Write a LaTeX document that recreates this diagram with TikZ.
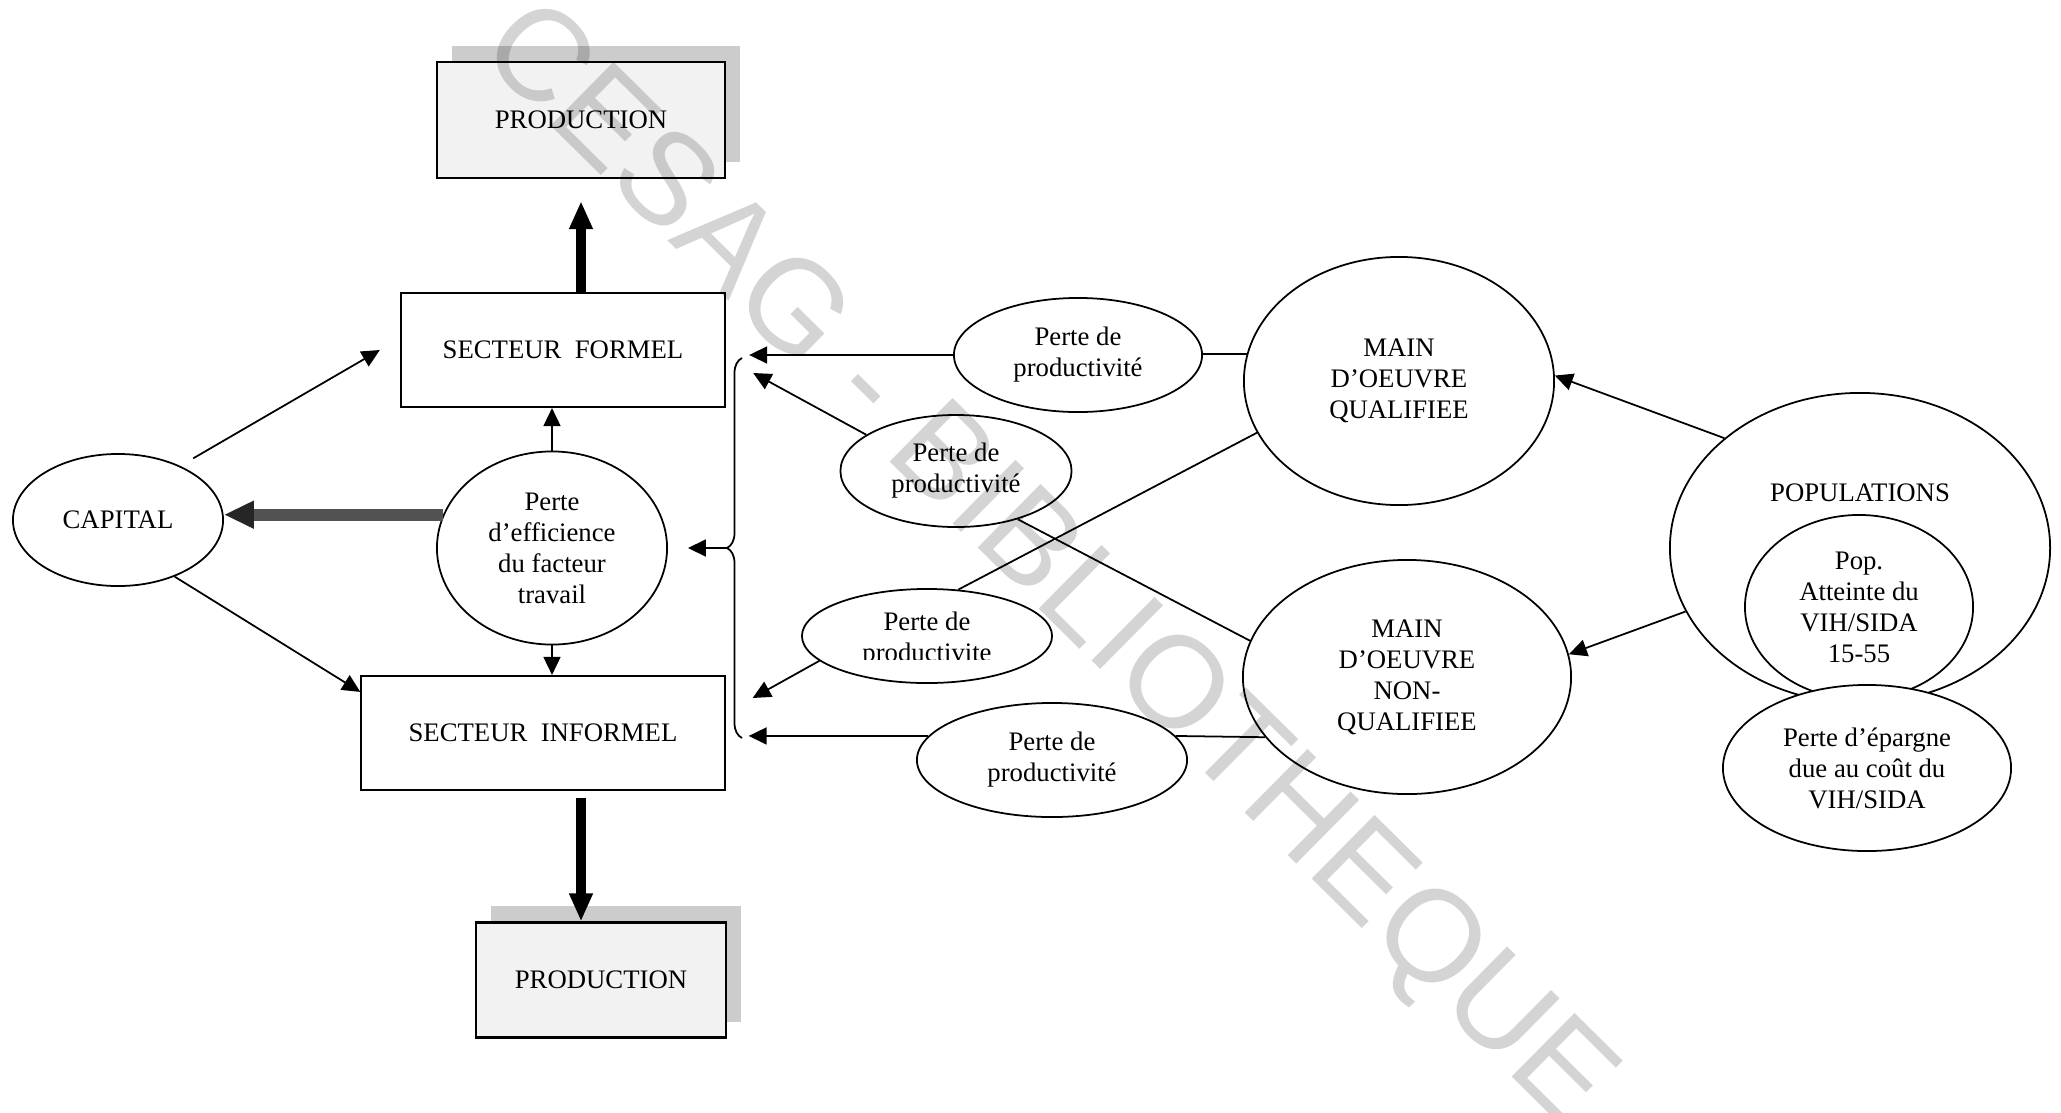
\documentclass[tikz,border=0pt]{standalone}
\usepackage{fontspec}
\setmainfont{Liberation Serif}
\newfontfamily\filigranefont{Liberation Sans}
\usetikzlibrary{arrows.meta, shapes.geometric, decorations.pathreplacing, shadows}

\begin{document}
\begin{tikzpicture}[
  x=0.01cm, y=-0.01cm,
  txt/.style={font=\fontsize{7.6}{8.8}\selectfont, align=center},
  boite/.style={txt, draw, line width=0.6pt, inner sep=0pt},
  prod/.style={boite, fill=gray!10,
               general shadow={shadow xshift=0.15cm, shadow yshift=0.16cm, fill=gray!40}},
  bulle/.style={txt, ellipse, draw, line width=0.5pt, inner sep=0pt},
  trait/.style={line width=0.5pt},
  fl/.style={trait, -{Triangle[length=0.18cm, width=0.17cm]}},
  gros/.style={line width=0.1cm, -{Triangle[length=0.28cm, width=0.22cm]}},
  grisfl/.style={line width=0.12cm, draw=black!68,
                 -{Triangle[length=0.3cm, width=0.26cm, color=black!85]}}
]
\useasboundingbox (0,0) rectangle (2061,1112);

% Secteurs et production
\node[prod, minimum width=2.87cm, minimum height=1.16cm] (prodH) at (581,120) {PRODUCTION};
\node[boite, minimum width=3.24cm, minimum height=1.14cm] (formel) at (563,350) {SECTEUR~~FORMEL};
\node[boite, minimum width=3.63cm, minimum height=1.14cm] (informel) at (543,733) {SECTEUR~~INFORMEL};
\node[prod, minimum width=2.49cm, minimum height=1.15cm] (prodB) at (601,980) {PRODUCTION};

\node[bulle, minimum width=2.1cm, minimum height=1.32cm] (capital) at (118,520) {CAPITAL};
\node[bulle, minimum width=2.3cm, minimum height=1.93cm] (eff) at (552,548)
  {Perte\\d’efficience\\du facteur\\travail};

% Pertes de productivite
\node[bulle, minimum width=2.48cm, minimum height=1.14cm] (p1) at (1078,355) {Perte de\\productivité};
\node[bulle, minimum width=2.31cm, minimum height=1.12cm] (p2) at (956,471) {Perte de\\productivité};
\node[bulle, minimum width=2.5cm, minimum height=0.94cm,
  path picture={
    \clip ([yshift=0.24cm]path picture bounding box.south west)
      rectangle (path picture bounding box.north east);
    \node[txt] at ([yshift=-0.04cm]path picture bounding box.center) {Perte de\\productivite};
  }] (p3) at (927,636) {};
\node[bulle, minimum width=2.7cm, minimum height=1.14cm] (p4) at (1052,760) {Perte de\\productivité};

% Main d'oeuvre
\node[bulle, minimum width=3.1cm, minimum height=2.48cm] (mq) at (1399,381) {MAIN\\D’OEUVRE\\QUALIFIEE};
\node[bulle, minimum width=3.28cm, minimum height=2.34cm] (mnq) at (1407,677)
  {MAIN\\D’OEUVRE\\NON-\\QUALIFIEE};

% Populations
\node[bulle, minimum width=3.8cm, minimum height=3.1cm] (pop) at (1860,548) {};
\node[txt] (popt) at (1860,493) {POPULATIONS};
\node[bulle, minimum width=2.28cm, minimum height=1.84cm] (popv) at (1859,607)
  {Pop.\\Atteinte du\\VIH/SIDA\\15-55};
\node[bulle, fill=white, minimum width=2.88cm, minimum height=1.66cm] (epargne) at (1867,768)
  {Perte d’épargne\\due au coût du\\VIH/SIDA};

% Liaisons gauche
\draw[fl, shorten <=0.15cm] (capital.41) -- ([xshift=-0.2cm]formel.west);
\draw[fl] (capital.-45) -- ([yshift=-0.17cm]informel.north west);
\draw[grisfl] (eff.163) -- (eff.163 -| capital.east);
\draw[fl] (eff.north) -- (eff.north |- formel.south);
\draw[fl] (eff.south) -- (eff.south |- informel.north);
\draw[gros, shorten >=0.22cm] (formel.north -| prodH.south) -- (prodH.south);
\draw[gros, shorten <=0.07cm] (informel.south -| prodH.south) -- (prodB.north -| prodH.south);

% Liaisons droite
\draw[trait] (mq.170) -- (mq.170 -| p1.east);
\draw[fl, shorten >=0.23cm] (p1.west) -- (p1.west -| formel.east);
\draw[trait] (mnq.167) -- (p2.-38);
\draw[fl] (p2.158) -- ([xshift=0.27cm, yshift=-0.23cm]formel.east);
\draw[trait] (mq.200) -- (p3.56);
\draw[fl] (p3.193) -- ([xshift=0.27cm, yshift=0.35cm]informel.east);
\draw[trait] (mnq.203) -- (p4.11);
\draw[fl, shorten >=0.23cm] (p4.169) -- (p4.169 -| informel.east);
\draw[fl] (pop.141) -- (mq.2);
\draw[fl] (pop.200) -- (mnq.8);

% Accolade vers la perte d'efficience
\coordinate (accH) at (742,358);
\coordinate (accB) at (742,738);
\coordinate (pointe) at (727,548);
\draw[trait, decorate, decoration={brace, amplitude=0.15cm}] (accB) -- (accH);
\draw[fl, shorten >=0.2cm] (pointe) -- (pointe -| eff.east);

% Filigrane
\node[rotate=-44.7, inner sep=0pt, text=black, text opacity=0.17,
      font=\filigranefont\fontsize{37}{37}\selectfont] (filigrane) at (1045,568)
  {CESAG - BIBLIOTHEQUE};
\end{tikzpicture}
\end{document}
